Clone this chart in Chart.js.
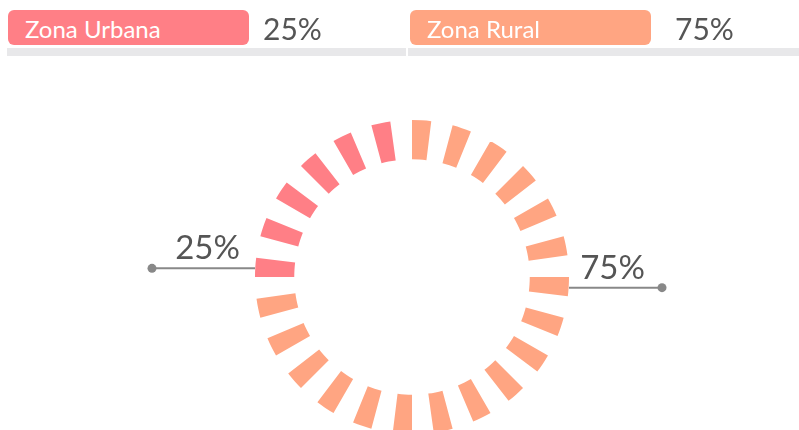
<!DOCTYPE html>
<html>
<head>
<meta charset="utf-8">
<script src="https://cdn.jsdelivr.net/npm/chart.js@4"></script>
<style>
  html, body { margin: 0; padding: 0; background: #fff; overflow: hidden; }
  body { width: 799px; height: 430px; position: relative; font-family: Lato, "Open Sans", sans-serif; }
  .pill { position: absolute; top: 10px; height: 35px; width: 241px; border-radius: 6px; color: #fff;
          font-size: 24px; line-height: 37px; padding-left: 17px; box-sizing: border-box; }
  .pct { position: absolute; top: 8px; font-size: 30px; color: #555; line-height: 40px; }
  .bar { position: absolute; top: 48px; height: 8px; background: #e8e8ea; }
  #wrap { position: absolute; left: 0; top: 0; width: 799px; height: 450px; }
</style>
</head>
<body>
<div id="wrap"><canvas id="chart"></canvas></div>
<div class="bar" style="left:7px; width:399px"></div>
<div class="bar" style="left:408px; width:391px"></div>
<div class="pill" id="pill0" style="left:8px"></div>
<div class="pct" id="pct0" style="left:263px"></div>
<div class="pill" id="pill1" style="left:410px"></div>
<div class="pct" id="pct1" style="left:675px"></div>
<script>
const categories = ["Zona Urbana", "Zona Rural"];
const shares = [25, 75];
const colors = ["#ff7f86", "#ffa582"];
// the ring starts at 12 o'clock with the rural share, then urban
const ringOrder = [1, 0];
const segmentCount = 24;

// header
categories.forEach((c, i) => {
  const pill = document.getElementById("pill" + i);
  pill.textContent = c;
  pill.style.background = colors[i];
  document.getElementById("pct" + i).textContent = shares[i] + "%";
});

// build dashed ring: each slot = colored piece + transparent gap
const total = shares.reduce((a, b) => a + b, 0);
const ringData = [];
const ringColors = [];
const segCat = [];
for (let s = 0; s < segmentCount; s++) {
  const pos = (s + 0.5) / segmentCount * total;
  let acc = 0, cat = ringOrder[0];
  for (const k of ringOrder) {
    acc += shares[k];
    if (pos < acc) { cat = k; break; }
  }
  ringData.push(0.47, 0.53);
  ringColors.push(colors[cat], "rgba(0,0,0,0)");
  segCat.push(cat);
}

const callouts = {
  id: "callouts",
  afterDatasetsDraw(chart) {
    const ctx = chart.ctx;
    const arcs = chart.getDatasetMeta(0).data;
    categories.forEach((c, k) => {
      // pick this category's piece that points most sideways
      let best = -1, bestCos = -1;
      segCat.forEach((cat, s) => {
        if (cat !== k) return;
        const a = arcs[s * 2];
        const m = (a.startAngle + a.endAngle) / 2;
        if (Math.abs(Math.cos(m)) > bestCos) { bestCos = Math.abs(Math.cos(m)); best = s; }
      });
      const arc = arcs[best * 2];
      const m = (arc.startAngle + arc.endAngle) / 2;
      const dir = Math.cos(m) < 0 ? -1 : 1;
      const x0 = arc.x + dir * arc.outerRadius;
      const y0 = arc.y + Math.sin(m) * arc.outerRadius + 1;
      const x1 = x0 + dir * (dir < 0 ? 103 : 93);
      ctx.save();
      ctx.strokeStyle = "#888";
      ctx.lineWidth = 2;
      ctx.beginPath();
      ctx.moveTo(x0, y0);
      ctx.lineTo(x1, y0);
      ctx.stroke();
      ctx.fillStyle = "#888";
      ctx.beginPath();
      ctx.arc(x1, y0, 4.5, 0, Math.PI * 2);
      ctx.fill();
      ctx.fillStyle = "#555";
      ctx.font = "33px Lato, 'Open Sans', sans-serif";
      ctx.textAlign = "center";
      ctx.textBaseline = "alphabetic";
      ctx.fillText(shares[k] + "%", (x0 + x1) / 2 + (dir < 0 ? 4 : -3), y0 - 9);
      ctx.restore();
    });
  }
};

new Chart(document.getElementById("chart"), {
  type: "doughnut",
  data: {
    labels: ringData.map((v, i) => i),
    datasets: [{
      data: ringData,
      backgroundColor: ringColors,
      borderWidth: 0,
      hoverOffset: 0
    }]
  },
  options: {
    responsive: true,
    maintainAspectRatio: false,
    animation: false,
    cutout: "75%",
    rotation: 0,
    events: [],
    layout: { padding: { left: 255, right: 230, top: 120, bottom: 16 } },
    plugins: { legend: { display: false }, tooltip: { enabled: false } }
  },
  plugins: [callouts]
});
</script>
</body>
</html>
